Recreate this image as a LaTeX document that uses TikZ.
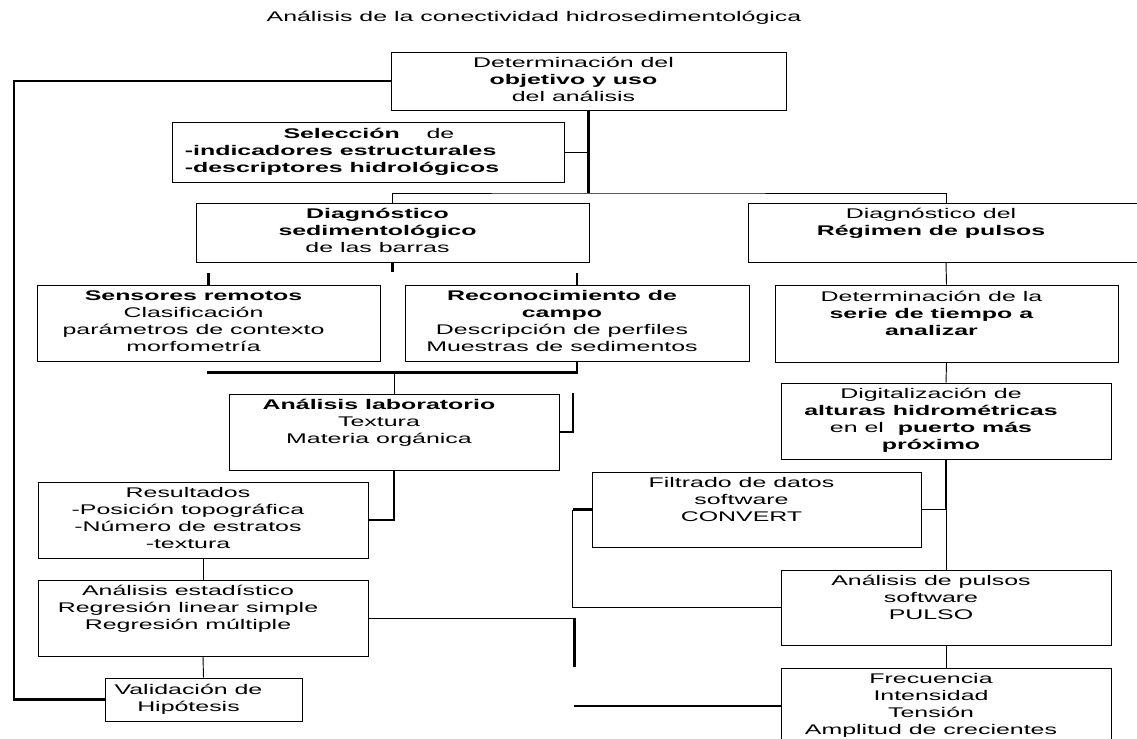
\documentclass[tikz,border=0pt]{standalone}
\usepackage{fontspec}
\setmainfont{Liberation Sans}[FakeStretch=1.78]

\newcommand{\bloque}[1]{\begin{tabular}{@{}c@{\hspace{22.5pt}}}#1\end{tabular}}

\tikzset{
  caja/.style 2 args={draw, line width=0.7pt, inner sep=0pt,
    minimum width=#1*0.75pt, minimum height=#2*0.75pt},
  fino/.style={line width=0.7pt},
  grueso/.style={line width=1.6pt},
}

\begin{document}
\begin{tikzpicture}[x=0.75pt, y=-0.75pt, font=\fontsize{10.5pt}{12.75pt}\selectfont]
  \useasboundingbox (0,0) rectangle (1137,738);
  \clip (0,0) rectangle (1137,738);

  \node (titulo) at (534,18) {Análisis de la conectividad hidrosedimentológica};

  \node[caja={395}{58}] (A) at (588.5,81) {\bloque{Determinación del\\ \textbf{objetivo y uso}\\ del análisis}};
  \node[caja={392}{60}] (B) at (368,152) {\begin{tabular}{@{}l@{\hspace{39pt}}}\hspace*{74pt}\textbf{Selección}\hspace{20pt}de\\ \textbf{-indicadores estructurales}\\ \textbf{-descriptores hidrológicos}\end{tabular}};
  \node[caja={393}{59}] (C) at (392.5,232.5) {\bloque{\textbf{Diagnóstico}\\ \textbf{sedimentológico}\\ de las barras}};
  \node[caja={396}{59}] (D) at (946,232.5) {\bloque{Diagnóstico del\\ \textbf{Régimen de pulsos}\\ ~}};
  \node[caja={343}{76}] (F) at (208.5,323) {\bloque{\textbf{Sensores remotos}\\ Clasificación\\ parámetros de contexto\\ morfometría}};
  \node[caja={344}{76}] (G) at (577,323) {\bloque{\textbf{Reconocimiento de}\\ \textbf{campo}\\ Descripción de perfiles\\ Muestras de sedimentos}};
  \node[caja={343}{77}] (E) at (946.5,323.5) {\bloque{Determinación de la\\ \textbf{serie de tiempo a}\\ \textbf{analizar}\\ ~}};
  \node[caja={330}{76}] (H) at (394,432) {\bloque{\textbf{Análisis laboratorio}\\ Textura\\ Materia orgánica\\ ~}};
  \node[caja={330}{76}] (O) at (946,421) {\bloque{Digitalización de\\ \textbf{alturas hidrométricas}\\ en el \ \textbf{puerto más}\\ \textbf{próximo}}};
  \node[caja={330}{76}] (I) at (203,520) {\bloque{Resultados\\ -Posición topográfica\\ -Número de estratos\\ -textura}};
  \node[caja={329}{75}] (N) at (756.5,509.5) {\bloque{Filtrado de datos\\ software\\ CONVERT\\ ~}};
  \node[caja={330}{76}] (J) at (203,618) {\bloque{Análisis estadístico\\ Regresión linear simple\\ Regresión múltiple\\ ~}};
  \node[caja={330}{75}] (M) at (946,607.5) {\bloque{Análisis de pulsos\\ software\\ PULSO\\ ~}};
  \node[caja={197}{43}] (K) at (203.5,699.5) {\bloque{Validación de\\ Hipótesis}};
  \node[caja={330}{76}] (L) at (946,706) {\bloque{Frecuencia\\ Intensidad\\ Tensión\\ Amplitud de crecientes}};

  \coordinate (retorno) at (14,81);
  \draw[line width=2pt] (A.west) -- (retorno) |- (K.west);

  \coordinate (bus) at (588.5,193);
  \draw[grueso] (A.south) -- (bus);
  \draw[fino] (B.east) -- (B.east -| bus);
  \draw[fino] (C.north) |- (bus) -| (D.north);

  \draw[grueso] (C.south) -- ++(0,10);
  \draw[grueso] (F.north) -- ++(0,-12);
  \draw[grueso] (G.north) -- ++(0,-12);

  \draw[fino] (D.south) -- (E.north);
  \draw[fino] (E.south) -- (O.north);

  \draw[grueso] (G.south) -- ++(0,11) -- ++(-370,0);
  \draw[fino] (H.north) -- ++(0,-22);
  \coordinate (huerfano) at (573,393);
  \draw[grueso] (huerfano) |- (H.east);
  \draw[grueso] (H.south) |- (I.east);
  \draw[fino] (I.south) -- (J.north);
  \draw[fino] (J.south) -- (K.north);
  \draw[fino] (J.east) -- ++(206,0) coordinate (esq);
  \draw[grueso] (esq) -- ++(0,49);
  \coordinate (salida) at (574,706);
  \draw[grueso] (salida) -- (L.west);

  \draw[grueso] (O.south) -- (O.south |- N.east) coordinate (nudo);
  \draw[fino] (N.east) -- (nudo) -- (M.north);
  \draw[grueso] (N.west) -- ++(-19,0) coordinate (codo);
  \draw[fino] (codo) |- (M.west);
  \draw[fino] (M.south) -- (L.north);
\end{tikzpicture}
\end{document}
